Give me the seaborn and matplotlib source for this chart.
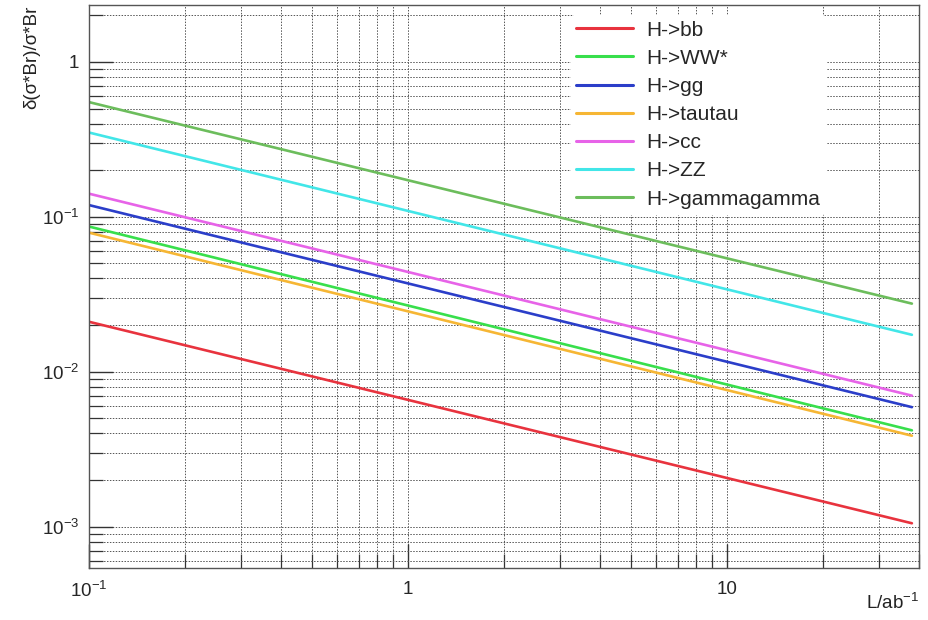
import matplotlib
matplotlib.use("Agg")
import matplotlib.pyplot as plt
import matplotlib.ticker as mticker
import numpy as np
import pandas as pd
import seaborn as sns

# Integrated luminosity (ab^-1) at the two ends of each projection line
luminosity = [0.1, 38.0]

# Relative precision on sigma*Br for each Higgs decay channel
channels = ["H->bb", "H->WW*", "H->gg", "H->tautau", "H->cc", "H->ZZ", "H->gammagamma"]
prec_bb = [0.0210, 0.00105]
prec_ww = [0.0865, 0.00418]
prec_gg = [0.119, 0.0059]
prec_tautau = [0.079, 0.00386]
prec_cc = [0.141, 0.0070]
prec_zz = [0.35, 0.0173]
prec_gammagamma = [0.55, 0.0275]

colors = ["#e8333e", "#38df4c", "#2b3ec9", "#f6b634", "#e763e8", "#42e6e8", "#6cbd5c"]

series = [prec_bb, prec_ww, prec_gg, prec_tautau, prec_cc, prec_zz, prec_gammagamma]
df = pd.DataFrame({
    "L": np.tile(luminosity, len(channels)),
    "prec": np.concatenate(series),
    "channel": np.repeat(channels, len(luminosity)),
})

sns.set_style("white")
plt.rcParams["font.family"] = ["Liberation Sans", "DejaVu Sans"]
plt.rcParams["mathtext.fontset"] = "custom"
plt.rcParams["mathtext.rm"] = "Liberation Sans"
plt.rcParams["mathtext.it"] = "Liberation Sans:italic"

fig = plt.figure(figsize=(9.29, 6.2), dpi=100)
ax = fig.add_axes([89 / 929, 1 - 568 / 620, 830 / 929, 563 / 620])

sns.lineplot(data=df, x="L", y="prec", hue="channel", hue_order=channels,
             palette=colors, linewidth=1.9, ax=ax, legend=True)

ax.set_xscale("log")
ax.set_yscale("log")
ax.set_xlim(0.1, 40)
ax.set_ylim(5.4e-4, 2.33)

ax.xaxis.set_major_locator(mticker.FixedLocator([0.1, 1, 10]))
ax.xaxis.set_major_formatter(mticker.FixedFormatter(
    [r"$\mathregular{10^{-1}}$", "1", "10"]))
ax.xaxis.set_minor_locator(mticker.LogLocator(base=10, subs=np.arange(2, 10)))
ax.xaxis.set_minor_formatter(mticker.NullFormatter())

ax.yaxis.set_major_locator(mticker.FixedLocator([1e-3, 1e-2, 1e-1, 1]))
ax.yaxis.set_major_formatter(mticker.FixedFormatter(
    [r"$\mathregular{10^{-3}}$", r"$\mathregular{10^{-2}}$",
     r"$\mathregular{10^{-1}}$", "1"]))
ax.yaxis.set_minor_locator(mticker.LogLocator(base=10, subs=np.arange(2, 10)))
ax.yaxis.set_minor_formatter(mticker.NullFormatter())

ax.grid(True, which="both", color="#555555", linestyle=(0, (1.5, 1.5)), linewidth=0.7)
ax.tick_params(axis="both", which="major", direction="in", length=17, width=1.0,
               color="#333333", labelsize=13.5, left=True, bottom=True)
ax.tick_params(axis="both", which="minor", direction="in", length=10, width=0.9,
               color="#333333", left=True, bottom=True)
ax.tick_params(axis="x", which="major", pad=9)
ax.tick_params(axis="y", which="major", pad=7)
for s in ax.spines.values():
    s.set_color("#555555")
    s.set_linewidth(1.0)

ax.set_xlabel("")
ax.set_ylabel("")
fig.text(919 / 929, 1 - 603 / 620, r"L/ab$^{\mathregular{-1}}$", ha="right", va="center",
         fontsize=13.5, color="#222222")
fig.text(32 / 929, 1 - 6 / 620, "δ(σ*Br)/σ*Br", rotation=90, ha="center", va="top",
         fontsize=13.5, color="#222222")

handles, labels = ax.get_legend_handles_labels()
leg = ax.legend(handles, labels, loc="upper left", bbox_to_anchor=(0.568, 1.0),
                frameon=True, fontsize=15, handlelength=2.75, handletextpad=0.62,
                labelspacing=0.44, borderpad=0.25, facecolor="white", edgecolor="white",
                framealpha=1.0)
for line in leg.get_lines():
    line.set_linewidth(2.2)

fig.savefig("out.png", dpi=100)
